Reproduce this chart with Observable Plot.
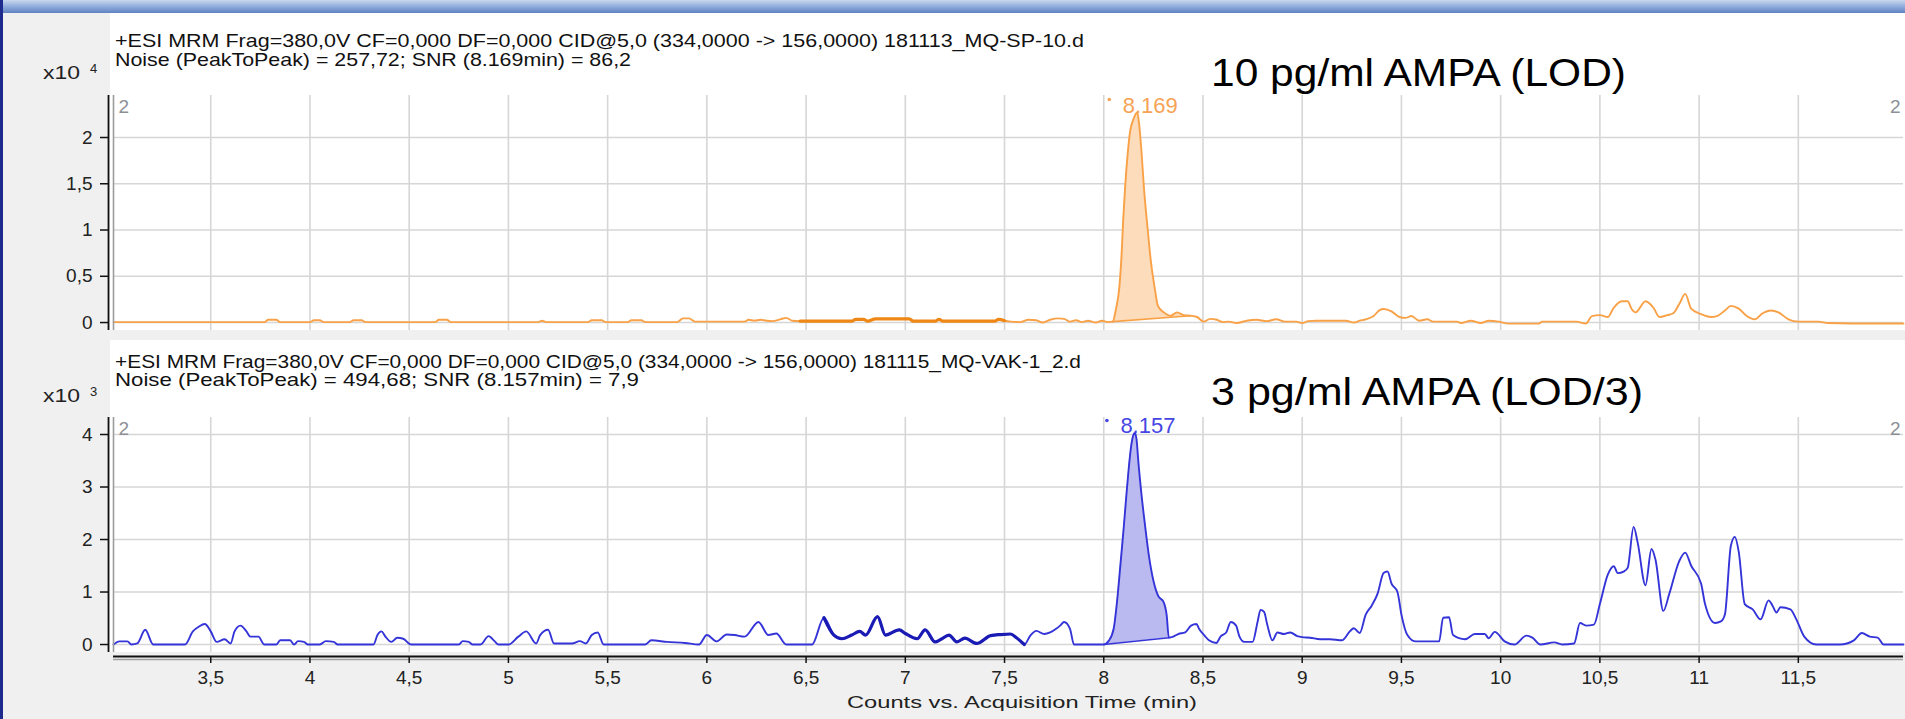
<!DOCTYPE html>
<html><head><meta charset="utf-8">
<script src="https://cdn.jsdelivr.net/npm/d3@7"></script>
<script src="https://cdn.jsdelivr.net/npm/@observablehq/plot@0.6"></script>
<style>
html,body{margin:0;padding:0;overflow:hidden;background:#f0f0f0;}
#wrap{position:relative;width:1905px;height:719px;background:#f0f0f0;overflow:hidden;font-family:'Liberation Sans',Arial,sans-serif;}
.abs{position:absolute;}
.t{position:absolute;white-space:nowrap;transform-origin:0 50%;line-height:1;}
</style></head>
<body><div id="wrap"></div>
<script>
// ---------------- data ----------------
const xDomain = [3.01, 12.03];
const xTicks = [3.5,4,4.5,5,5.5,6,6.5,7,7.5,8,8.5,9,9.5,10,10.5,11,11.5];
const yTicksTop = [0,0.5,1,1.5,2];
const yTicksBot = [0,1,2,3,4];
const yDomainTop = [-0.086, 2.454];
const yDomainBot = [-0.152, 4.324];

// top trace (counts x10^4) [time(min), value]
const topTrace = [
[3.01,0.005],[3.77,0.005],[3.79,0.03],[3.83,0.03],[3.85,0.005],
[4.0,0.005],[4.02,0.025],[4.05,0.025],[4.07,0.005],[4.2,0.005],[4.22,0.025],[4.26,0.025],[4.28,0.005],
[4.63,0.005],[4.65,0.03],[4.69,0.03],[4.71,0.005],[5.15,0.005],[5.17,0.02],[5.19,0.005],
[5.4,0.005],[5.42,0.025],[5.47,0.025],[5.49,0.005],[5.6,0.005],[5.62,0.025],[5.67,0.025],[5.69,0.005],
[5.85,0.005],[5.88,0.045],[5.91,0.045],[5.94,0.01],[6.19,0.01],[6.21,0.03],[6.24,0.02],[6.27,0.03],[6.3,0.02],[6.33,0.015],[6.37,0.035],[6.4,0.05],[6.43,0.02],
[6.47,0.015],[6.73,0.015],[6.75,0.035],[6.79,0.035],[6.81,0.015],[6.85,0.04],[7.02,0.04],[7.04,0.015],[7.15,0.015],[7.17,0.035],[7.19,0.015],[7.45,0.015],[7.47,0.035],[7.5,0.02],[7.53,0.01],[7.58,0.005],[7.62,0.03],[7.66,0.025],[7.69,0.0],[7.73,0.03],[7.77,0.045],[7.8,0.04],[7.83,0.01],[7.86,0.025],[7.89,0.005],[7.92,0.02],[7.96,0.0],[7.99,0.02],[8.02,0.005],
[8.045,0.01],[8.062,0.15],[8.078,0.37],[8.09,0.74],[8.098,1.11],[8.107,1.44],[8.12,1.81],[8.133,2.07],[8.15,2.2],[8.169,2.27],[8.178,2.15],[8.19,1.85],[8.203,1.44],[8.22,1.04],[8.237,0.67],[8.257,0.37],[8.273,0.18],[8.303,0.11],[8.337,0.074],[8.37,0.11],[8.403,0.08],[8.437,0.074],
[8.47,0.06],[8.503,0.01],[8.537,0.04],[8.57,0.03],[8.6,0.005],[8.63,0.01],[8.67,-0.005],[8.72,0.02],[8.77,0.03],[8.82,0.015],[8.87,0.035],[8.91,0.01],[8.97,0.01],[9.0,-0.005],[9.03,0.015],[9.07,0.02],[9.22,0.02],[9.26,0.0],[9.29,0.02],[9.32,0.035],[9.36,0.07],[9.39,0.135],[9.41,0.146],[9.45,0.12],[9.49,0.06],[9.52,0.05],[9.55,0.07],[9.59,0.02],[9.63,0.035],[9.66,0.01],[9.78,0.01],[9.8,-0.005],[9.85,0.02],[9.9,-0.005],[9.94,0.02],[9.99,0.01],[10.04,-0.012],[10.19,-0.012],[10.21,0.01],[10.38,0.01],[10.43,-0.01],[10.46,0.07],[10.5,0.08],[10.54,0.06],[10.57,0.16],[10.61,0.23],[10.64,0.23],[10.66,0.146],[10.68,0.11],[10.73,0.23],[10.77,0.16],[10.8,0.06],[10.84,0.08],[10.87,0.1],[10.9,0.2],[10.93,0.31],[10.96,0.15],[11.01,0.09],[11.06,0.06],[11.09,0.07],[11.13,0.13],[11.16,0.18],[11.2,0.15],[11.24,0.07],[11.28,0.035],[11.32,0.1],[11.36,0.13],[11.4,0.11],[11.45,0.035],[11.5,0.01],[11.6,0.01],[11.65,-0.005],[11.77,-0.01],[12.03,-0.01]
];

// bottom trace (counts x10^3) [time(min), value]
const botTrace = [
[3.01,0.0],[3.04,0.06],[3.08,0.06],[3.1,0.0],[3.13,0.02],[3.17,0.28],[3.21,0.0],[3.37,0.0],[3.41,0.25],[3.44,0.34],[3.47,0.39],[3.5,0.25],[3.53,0.05],[3.57,0.1],[3.6,0.02],[3.62,0.25],[3.65,0.36],[3.68,0.25],[3.7,0.15],[3.74,0.15],[3.77,0.0],
[3.83,0.0],[3.85,0.08],[3.9,0.08],[3.92,0.0],[3.94,0.065],[3.97,0.05],[3.99,0.0],[4.05,0.0],[4.08,0.065],[4.12,0.05],[4.14,0.0],[4.32,0.0],[4.34,0.18],[4.36,0.25],[4.38,0.15],[4.41,0.05],[4.44,0.13],[4.47,0.11],[4.51,0.0],
[4.75,0.0],[4.77,0.065],[4.8,0.05],[4.82,0.0],[4.86,0.0],[4.9,0.16],[4.93,0.065],[4.95,0.0],[5.0,0.0],[5.05,0.15],[5.09,0.25],[5.14,0.02],[5.16,0.18],[5.2,0.28],[5.23,0.02],[5.32,0.02],[5.36,0.065],[5.39,0.02],[5.42,0.18],[5.45,0.23],[5.48,0.0],
[5.69,0.0],[5.72,0.08],[5.8,0.05],[5.89,0.03],[5.96,0.0],[6.0,0.18],[6.05,0.06],[6.1,0.19],[6.14,0.18],[6.19,0.15],[6.26,0.43],[6.31,0.18],[6.35,0.21],[6.4,0.0],[6.53,0.0],[6.59,0.51],[6.64,0.18],[6.68,0.11],[6.73,0.18],[6.77,0.25],[6.8,0.18],[6.86,0.53],[6.9,0.18],[6.97,0.28],[7.0,0.21],[7.06,0.11],[7.1,0.28],[7.15,0.05],
[7.18,0.1],[7.22,0.18],[7.26,0.05],[7.3,0.12],[7.36,0.02],[7.43,0.17],[7.48,0.19],[7.53,0.2],[7.56,0.13],[7.6,0.0],[7.63,0.17],[7.66,0.26],[7.7,0.2],[7.73,0.23],[7.76,0.3],[7.78,0.36],[7.8,0.43],[7.83,0.3],[7.85,0.0],
[8.0,0.0],[8.025,0.07],[8.05,0.3],[8.067,0.82],[8.083,1.48],[8.1,2.2],[8.113,2.8],[8.125,3.32],[8.138,3.78],[8.15,4.0],[8.157,4.03],[8.165,3.91],[8.175,3.45],[8.19,2.86],[8.208,2.27],[8.228,1.68],[8.25,1.22],[8.275,0.92],[8.3,0.82],[8.317,0.56],[8.328,0.13],
[8.35,0.15],[8.375,0.2],[8.41,0.23],[8.44,0.36],[8.467,0.39],[8.48,0.3],[8.51,0.16],[8.53,0.08],[8.567,0.03],[8.59,0.16],[8.617,0.23],[8.64,0.43],[8.667,0.36],[8.683,0.16],[8.708,0.05],[8.75,0.05],[8.775,0.43],[8.79,0.66],[8.808,0.62],[8.825,0.36],[8.85,0.08],[8.875,0.23],[8.908,0.2],[8.94,0.23],[8.975,0.16],[9.0,0.14],[9.04,0.13],[9.09,0.1],[9.14,0.1],[9.2,0.08],
[9.24,0.25],[9.26,0.31],[9.29,0.22],[9.32,0.57],[9.35,0.74],[9.38,0.97],[9.41,1.36],[9.43,1.39],[9.45,1.16],[9.48,1.0],[9.5,0.57],[9.53,0.18],[9.57,0.06],[9.69,0.06],[9.71,0.51],[9.74,0.52],[9.76,0.18],[9.82,0.1],[9.87,0.2],[9.92,0.2],[9.94,0.12],[9.97,0.24],[10.02,0.06],[10.07,0.0],[10.13,0.17],[10.16,0.13],[10.2,0.0],[10.27,0.04],[10.31,0.0],[10.37,0.02],
[10.4,0.41],[10.43,0.36],[10.47,0.38],[10.5,0.77],[10.54,1.33],[10.57,1.49],[10.59,1.36],[10.62,1.39],[10.64,1.46],[10.67,2.24],[10.69,1.95],[10.73,1.13],[10.76,1.82],[10.78,1.62],[10.82,0.64],[10.85,0.97],[10.9,1.59],[10.93,1.75],[10.96,1.5],[11.01,1.16],[11.03,0.77],[11.08,0.41],[11.11,0.44],[11.13,0.57],[11.16,1.88],[11.18,2.05],[11.2,1.76],[11.23,0.77],[11.27,0.67],[11.31,0.48],[11.35,0.84],[11.37,0.74],[11.39,0.61],[11.41,0.71],[11.46,0.67],[11.49,0.48],[11.53,0.15],[11.59,0.0],[11.71,0.0],[11.78,0.08],[11.82,0.22],[11.86,0.15],[11.9,0.13],[11.93,0.0],[12.03,0.0]
];

// integration baselines [start, end] as [time, value]
const topIntegration = [[8.045,0.01],[8.437,0.074]];
const botIntegration = [[8.0,0.0],[8.328,0.13]];
// highlighted (bold) trace ranges
const topBold = [6.47, 7.5];
const botBold = [6.55, 7.6];
// peak labels
const topPeak = [{rt: 8.169, label: "8.169"}];
const botPeak = [{rt: 8.157, label: "8.157"}];
const cornerLabel = ["2"];

const topHeader = ["+ESI MRM Frag=380,0V CF=0,000 DF=0,000 CID@5,0 (334,0000 -> 156,0000) 181113_MQ-SP-10.d",
                   "Noise (PeakToPeak) = 257,72; SNR (8.169min) = 86,2"];
const botHeader = ["+ESI MRM Frag=380,0V CF=0,000 DF=0,000 CID@5,0 (334,0000 -> 156,0000) 181115_MQ-VAK-1_2.d",
                   "Noise (PeakToPeak) = 494,68; SNR (8.157min) = 7,9"];
const topTitle = "10 pg/ml AMPA (LOD)";
const botTitle = "3 pg/ml AMPA (LOD/3)";
const topExp = "4", botExp = "3";
const xTitle = "Counts vs. Acquisition Time (min)";

// ---------------- helpers ----------------
const toObj = arr => arr.map(([t, v]) => ({t, v}));
const comma = d => String(d).replace(".", ",");
function integ(trace, ends) {
  const [[t0, v0], [t1, v1]] = ends;
  return toObj(trace).filter(d => d.t >= t0 && d.t <= t1)
    .map(d => ({t: d.t, v: d.v, b: v0 + (d.t - t0) / (t1 - t0) * (v1 - v0)}));
}
const wrap = document.getElementById("wrap");
function box(style) { const d = document.createElement("div"); d.className = "abs"; d.style.cssText = style; wrap.appendChild(d); return d; }
const texts = [];
function txt(s, left, cy, fs, targetW, color = "#111", extra = "") {
  const d = document.createElement("div"); d.className = "t";
  d.textContent = s;
  d.style.cssText = `left:${left}px;top:${cy - fs / 2}px;font-size:${fs}px;color:${color};${extra}`;
  wrap.appendChild(d); texts.push([d, targetW]); return d;
}

// ---------------- backgrounds ----------------
box("left:0;top:0;width:1905px;height:13px;background:linear-gradient(#c9d8ef,#8aa8d9 55%,#5f82c0);");
box("left:0;top:0;width:3px;height:719px;background:#1d2b8e;");
box("left:110px;top:13px;width:1795px;height:317px;background:#fff;");
box("left:110px;top:340px;width:1795px;height:312px;background:#fff;");

const font = "'Liberation Sans', Arial, sans-serif";

function panel({trace, integration, bold, peak, yDomain, yTicks, line, thick, fill, labelColor, top, height, mt, mb, xAxis}) {
  const data = toObj(trace);
  const area = integ(trace, integration);
  const boldData = data.filter(d => d.t >= bold[0] && d.t <= bold[1]);
  const curve = "monotone-x";
  const marks = [
    Plot.gridX(xTicks, {stroke: "#d6d6d6", strokeOpacity: 1, strokeWidth: 1.6}),
    Plot.gridY(yTicks, {stroke: "#d6d6d6", strokeOpacity: 1, strokeWidth: 1.6}),
    Plot.areaY(area, {x: "t", y1: "b", y2: "v", fill: fill, fillOpacity: 1, curve}),
    Plot.line(toObj(integration), {x: "t", y: "v", stroke: line, strokeWidth: 1.6}),
    Plot.line(data, {x: "t", y: "v", stroke: line, strokeWidth: 1.9, curve}),
    Plot.line(boldData, {x: "t", y: "v", stroke: thick, strokeWidth: 3.2, curve}),
    Plot.text(peak, {x: "rt", text: "label", frameAnchor: "top", dy: xAxis ? 8 : 10, dx: 13, fill: labelColor, fontSize: 22, textAnchor: "middle", lineAnchor: "middle"}),
    Plot.dot(peak, {x: "rt", frameAnchor: "top", dy: xAxis ? 3 : 4, dx: -28, r: 1.8, fill: labelColor, stroke: null}),
    Plot.text(cornerLabel, {text: d => d, frameAnchor: "top-left", dx: 5, dy: 11, fill: "#8c8f96", fontSize: 19, textAnchor: "start", lineAnchor: "middle"}),
    Plot.text(cornerLabel, {text: d => d, frameAnchor: "top-right", dx: -3, dy: 11, fill: "#8c8f96", fontSize: 19, textAnchor: "end", lineAnchor: "middle"}),
    Plot.ruleX([xDomain[0]], {stroke: "#9c9c9c", strokeWidth: 1.6}),
    Plot.ruleX([xDomain[0]], {stroke: "#111", strokeWidth: 1.8, dx: -5}),
    Plot.axisY(yTicks, {tickSize: 8, dx: -5, tickFormat: () => "", stroke: "#111", strokeWidth: 1.5, label: null}),
    Plot.text(yTicks, {y: d => d, text: comma, frameAnchor: "left", dx: -21, textAnchor: "end", lineAnchor: "middle", fontSize: 19, fill: "#222"})
  ];
  if (xAxis) {
    marks.push(
      Plot.ruleY([yDomain[0]], {stroke: "#111", strokeWidth: 1.9, dy: 4}),
      Plot.ruleY([yDomain[0]], {stroke: "#a0a0a0", strokeWidth: 1.6, dy: 7}),
      Plot.axisX(xTicks, {tickSize: 7, dy: 4, tickFormat: () => "", stroke: "#111", strokeWidth: 1.5, label: null}),
      Plot.text(xTicks, {x: d => d, text: comma, frameAnchor: "bottom", dy: 25, lineAnchor: "middle", fontSize: 19, fill: "#222"})
    );
  }
  const p = Plot.plot({
    width: 1905, height, marginLeft: 113, marginRight: 2, marginTop: mt, marginBottom: mb,
    x: {domain: xDomain, label: null, axis: null},
    y: {domain: yDomain, label: null, axis: null},
    style: {background: "transparent", fontFamily: font, overflow: "visible", color: "#222"},
    marks
  });
  const holder = box(`left:0;top:${top}px;width:1905px;height:${height}px;`);
  holder.appendChild(p);
}

panel({trace: topTrace, integration: topIntegration, bold: topBold, peak: topPeak, yDomain: yDomainTop, yTicks: yTicksTop,
  line: "#f8a146", thick: "#ef8716", fill: "#fddcbb", labelColor: "#f6a356", top: 85, height: 250, mt: 10, mb: 5, xAxis: false});
panel({trace: botTrace, integration: botIntegration, bold: botBold, peak: botPeak, yDomain: yDomainBot, yTicks: yTicksBot,
  line: "#3434d8", thick: "#1a1ab4", fill: "#babaf0", labelColor: "#4646e2", top: 400, height: 319, mt: 17, mb: 67, xAxis: true});

// ---------------- texts ----------------
txt(topHeader[0], 115, 41, 18.5, 969);
txt(topHeader[1], 115, 60, 18.5, 516);
txt(botHeader[0], 115, 362, 18.5, 966);
txt(botHeader[1], 115, 380, 18.5, 524);
txt(topTitle, 1211, 73, 38, 415, "#000");
txt(botTitle, 1211, 392, 38, 432, "#000");
txt("x10", 43, 73, 18, 37, "#222");
txt(topExp, 90, 68, 13, 0, "#222");
txt("x10", 43, 396, 18, 37, "#222");
txt(botExp, 90, 391, 13, 0, "#222");
txt(xTitle, 847, 702, 17, 350, "#222");

for (const [d, w] of texts) {
  if (!w) continue;
  const cw = d.getBoundingClientRect().width;
  if (cw > 0) d.style.transform = `scaleX(${w / cw})`;
}
</script></body></html>
